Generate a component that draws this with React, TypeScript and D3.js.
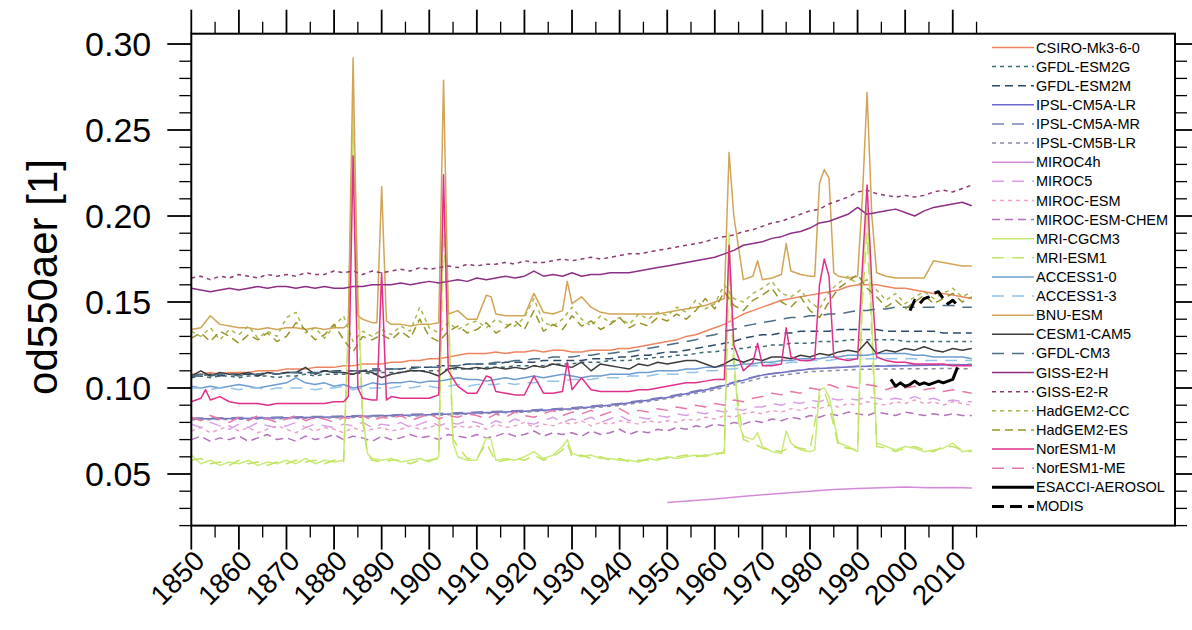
import React from 'react';
import * as d3 from 'd3';

const W = 1192;
const H = 630;
const FONT = 'Liberation Sans, Arial, Helvetica, sans-serif';

// ---- axis ticks / labels ----
const X_MAJOR = [1850, 1860, 1870, 1880, 1890, 1900, 1910, 1920, 1930, 1940, 1950, 1960, 1970, 1980, 1990, 2000, 2010];
const X_LABELS = ['1850', '1860', '1870', '1880', '1890', '1900', '1910', '1920', '1930', '1940', '1950', '1960', '1970', '1980', '1990', '2000', '2010'];
const X_MINOR = [1855, 1865, 1875, 1885, 1895, 1905, 1915, 1925, 1935, 1945, 1955, 1965, 1975, 1985, 1995, 2005, 2015];
const Y_MAJOR = [0.05, 0.1, 0.15, 0.2, 0.25, 0.3];
const Y_LABELS = ['0.05', '0.10', '0.15', '0.20', '0.25', '0.30'];
const Y_MINOR = [0.02, 0.03, 0.04, 0.06, 0.07, 0.08, 0.09, 0.11, 0.12, 0.13, 0.14, 0.16, 0.17, 0.18, 0.19, 0.21, 0.22, 0.23, 0.24, 0.26, 0.27, 0.28, 0.29];
const Y_TITLE = 'od550aer [1]';

// ---- series values: 2-year steps 1850..2014 unless noted ----
const CSIRO = [
  0.108, 0.108, 0.109, 0.108, 0.109, 0.109, 0.109, 0.110, 0.110, 0.110,
  0.111, 0.111, 0.111, 0.112, 0.112, 0.112, 0.113, 0.113, 0.114, 0.114,
  0.114, 0.115, 0.115, 0.116, 0.116, 0.117, 0.117, 0.118, 0.119, 0.120,
  0.120, 0.120, 0.121, 0.120, 0.121, 0.121, 0.122, 0.121, 0.122, 0.122,
  0.121, 0.121, 0.122, 0.122, 0.122, 0.123, 0.123, 0.124, 0.125, 0.126,
  0.127, 0.128, 0.130, 0.131, 0.133, 0.135, 0.137, 0.140, 0.143, 0.145,
  0.147, 0.149, 0.151, 0.152, 0.153, 0.154, 0.155, 0.156, 0.157, 0.159,
  0.160, 0.160, 0.160, 0.159, 0.158, 0.158, 0.157, 0.156, 0.155, 0.155,
  0.154, 0.153, 0.152,
];
const GFDL_ESM2G = [
  0.106, 0.107, 0.106, 0.107, 0.107, 0.106, 0.107, 0.107, 0.107, 0.106,
  0.107, 0.107, 0.108, 0.107, 0.108, 0.108, 0.108, 0.108, 0.109, 0.108,
  0.109, 0.109, 0.109, 0.110, 0.110, 0.110, 0.110, 0.111, 0.111, 0.111,
  0.111, 0.112, 0.112, 0.112, 0.113, 0.113, 0.113, 0.113, 0.114, 0.114,
  0.114, 0.115, 0.115, 0.115, 0.116, 0.116, 0.116, 0.117, 0.117, 0.118,
  0.118, 0.119, 0.119, 0.120, 0.121, 0.121, 0.122, 0.123, 0.123, 0.124,
  0.124, 0.125, 0.125, 0.126, 0.126, 0.126, 0.127, 0.127, 0.127, 0.128,
  0.128, 0.128, 0.128, 0.128, 0.128, 0.127, 0.127, 0.127, 0.127, 0.127,
  0.127, 0.127, 0.127,
];
const GFDL_ESM2M = [
  0.107, 0.107, 0.108, 0.107, 0.108, 0.108, 0.108, 0.108, 0.109, 0.108,
  0.109, 0.109, 0.109, 0.109, 0.110, 0.110, 0.110, 0.110, 0.110, 0.111,
  0.111, 0.111, 0.111, 0.112, 0.112, 0.112, 0.113, 0.113, 0.113, 0.114,
  0.114, 0.114, 0.114, 0.115, 0.115, 0.115, 0.115, 0.116, 0.116, 0.116,
  0.116, 0.116, 0.117, 0.117, 0.117, 0.118, 0.118, 0.119, 0.119, 0.120,
  0.121, 0.121, 0.122, 0.123, 0.124, 0.125, 0.126, 0.127, 0.129, 0.130,
  0.131, 0.131, 0.132, 0.132, 0.133, 0.133, 0.133, 0.133, 0.134, 0.134,
  0.134, 0.134, 0.134, 0.133, 0.133, 0.133, 0.133, 0.133, 0.133, 0.132,
  0.132, 0.132, 0.132,
];
// 10-year steps 1850..2010
const IPSL_CM5A_LR = [0.082, 0.0823, 0.0827, 0.0832, 0.0838, 0.0845, 0.0855, 0.0865, 0.088, 0.0905, 0.0945, 0.1, 0.1075, 0.111, 0.1125, 0.113, 0.1135];
const IPSL_CM5A_MR = [0.0825, 0.0828, 0.0831, 0.0836, 0.0842, 0.085, 0.086, 0.087, 0.0885, 0.091, 0.095, 0.1005, 0.1078, 0.1112, 0.1127, 0.1132, 0.1137];
const IPSL_CM5B_LR = [0.0815, 0.0818, 0.0822, 0.0827, 0.0833, 0.084, 0.085, 0.086, 0.0875, 0.0898, 0.0938, 0.099, 0.106, 0.1095, 0.1108, 0.1112, 0.1113];
// 5-year steps 1950..2010
const MIROC4H = [0.0335, 0.0345, 0.0355, 0.0368, 0.038, 0.039, 0.04, 0.041, 0.0415, 0.042, 0.0425, 0.042, 0.0422];
const MIROC5 = [
  0.079, 0.077, 0.080, 0.078, 0.076, 0.079, 0.077, 0.080, 0.078, 0.077,
  0.078, 0.080, 0.077, 0.079, 0.078, 0.077, 0.079, 0.078, 0.080, 0.077,
  0.079, 0.078, 0.080, 0.077, 0.079, 0.081, 0.078, 0.080, 0.079, 0.081,
  0.080, 0.078, 0.081, 0.079, 0.082, 0.080, 0.079, 0.081, 0.083, 0.080,
  0.082, 0.081, 0.083, 0.080, 0.082, 0.084, 0.081, 0.083, 0.082, 0.084,
  0.083, 0.085, 0.084, 0.086, 0.085, 0.087, 0.086, 0.088, 0.087, 0.089,
  0.089, 0.091, 0.090, 0.092, 0.091, 0.093, 0.092, 0.094, 0.093, 0.094,
  0.093, 0.095, 0.094, 0.093, 0.094, 0.093, 0.095, 0.093, 0.094, 0.092,
  0.093, 0.092, 0.092,
];
const MIROC_ESM = [
  0.075, 0.077, 0.074, 0.076, 0.078, 0.075, 0.077, 0.074, 0.076, 0.078,
  0.076, 0.074, 0.077, 0.075, 0.077, 0.076, 0.074, 0.077, 0.075, 0.076,
  0.077, 0.075, 0.076, 0.078, 0.076, 0.077, 0.079, 0.076, 0.078, 0.077,
  0.078, 0.076, 0.079, 0.077, 0.078, 0.080, 0.077, 0.079, 0.078, 0.080,
  0.079, 0.081, 0.078, 0.080, 0.079, 0.081, 0.080, 0.079, 0.081, 0.080,
  0.081, 0.080, 0.082, 0.081, 0.083, 0.082, 0.084, 0.083, 0.085, 0.086,
  0.085, 0.087, 0.086, 0.088, 0.087, 0.089, 0.088, 0.090, 0.089, 0.091,
  0.090, 0.092, 0.091, 0.090, 0.092, 0.091, 0.093, 0.091, 0.092, 0.090,
  0.092, 0.091, 0.090,
];
const MIROC_ESM_CHEM = [
  0.070, 0.072, 0.069, 0.071, 0.070, 0.072, 0.069, 0.071, 0.073, 0.070,
  0.071, 0.069, 0.072, 0.070, 0.071, 0.073, 0.070, 0.072, 0.071, 0.069,
  0.072, 0.070, 0.071, 0.073, 0.071, 0.072, 0.070, 0.073, 0.072, 0.071,
  0.073, 0.071, 0.072, 0.074, 0.072, 0.073, 0.075, 0.072, 0.074, 0.073,
  0.074, 0.072, 0.075, 0.073, 0.074, 0.076, 0.073, 0.075, 0.074, 0.076,
  0.075, 0.077, 0.076, 0.078, 0.077, 0.079, 0.078, 0.080, 0.079, 0.081,
  0.080, 0.082, 0.081, 0.083, 0.082, 0.084, 0.083, 0.085, 0.084, 0.086,
  0.085, 0.084, 0.086, 0.085, 0.084, 0.086, 0.085, 0.084, 0.085, 0.084,
  0.085, 0.084, 0.084,
];
const MRI_CGCM3 = [
  0.061, 0.056, 0.058, 0.055, 0.057, 0.056, 0.058, 0.055, 0.057, 0.056,
  0.058, 0.056, 0.059, 0.056, 0.058, 0.057, 0.058, 0.264, 0.085, 0.059,
  0.058, 0.059, 0.057, 0.058, 0.059, 0.057, 0.060, 0.150, 0.060, 0.058,
  0.058, 0.071, 0.058, 0.059, 0.058, 0.060, 0.063, 0.059, 0.061, 0.066,
  0.062, 0.060, 0.061, 0.059, 0.059, 0.058, 0.058, 0.057, 0.059, 0.058,
  0.060, 0.059, 0.060, 0.061, 0.060, 0.062, 0.062, 0.120, 0.072, 0.070,
  0.066, 0.063, 0.062, 0.068, 0.064, 0.063, 0.099, 0.095, 0.068, 0.066,
  0.063, 0.205, 0.068, 0.066, 0.064, 0.066, 0.065, 0.063, 0.064, 0.065,
  0.068, 0.063, 0.064,
];
const MRI_CGCM3_EXTRA: [number, number][] = [[1883, 0.14], [1885, 0.16], [1887, 0.062], [1903, 0.21], [1905, 0.068], [1913, 0.07], [1929, 0.07], [1963, 0.19], [1965, 0.08], [1969, 0.074], [1975, 0.075], [1981, 0.064], [1983, 0.1], [1991, 0.16], [1993, 0.14]];
const MRI_ESM1 = [
  0.058, 0.059, 0.056, 0.057, 0.055, 0.058, 0.056, 0.057, 0.055, 0.057,
  0.056, 0.058, 0.057, 0.058, 0.056, 0.058, 0.057, 0.250, 0.080, 0.058,
  0.057, 0.058, 0.058, 0.056, 0.058, 0.058, 0.059, 0.140, 0.066, 0.059,
  0.059, 0.068, 0.057, 0.058, 0.059, 0.058, 0.061, 0.058, 0.060, 0.064,
  0.060, 0.061, 0.059, 0.060, 0.058, 0.059, 0.057, 0.058, 0.058, 0.059,
  0.059, 0.060, 0.061, 0.060, 0.061, 0.061, 0.063, 0.110, 0.070, 0.068,
  0.065, 0.064, 0.063, 0.066, 0.065, 0.064, 0.095, 0.090, 0.066, 0.065,
  0.064, 0.190, 0.066, 0.065, 0.063, 0.065, 0.066, 0.064, 0.063, 0.066,
  0.066, 0.064, 0.063,
];
const MRI_ESM1_EXTRA: [number, number][] = [[1883, 0.13], [1885, 0.15], [1887, 0.062], [1903, 0.19], [1905, 0.07], [1929, 0.068], [1963, 0.17], [1983, 0.098], [1991, 0.15], [1993, 0.13]];
const ACCESS1_0 = [
  0.101, 0.100, 0.101, 0.100, 0.101, 0.102, 0.101, 0.100, 0.101, 0.102,
  0.103, 0.106, 0.103, 0.102, 0.103, 0.101, 0.102, 0.100, 0.101, 0.103,
  0.102, 0.103, 0.103, 0.104, 0.103, 0.104, 0.104, 0.105, 0.106, 0.105,
  0.105, 0.104, 0.105, 0.106, 0.105, 0.106, 0.107, 0.106, 0.107, 0.108,
  0.107, 0.106, 0.107, 0.107, 0.108, 0.108, 0.108, 0.109, 0.109, 0.110,
  0.110, 0.110, 0.111, 0.111, 0.112, 0.112, 0.113, 0.113, 0.114, 0.114,
  0.115, 0.115, 0.116, 0.116, 0.117, 0.117, 0.117, 0.118, 0.118, 0.119,
  0.119, 0.119, 0.120, 0.120, 0.120, 0.120, 0.119, 0.119, 0.118, 0.118,
  0.118, 0.118, 0.117,
];
const ACCESS1_3 = [
  0.100, 0.100, 0.099, 0.100, 0.100, 0.099, 0.100, 0.100, 0.099, 0.100,
  0.100, 0.100, 0.100, 0.099, 0.100, 0.100, 0.101, 0.099, 0.100, 0.100,
  0.100, 0.100, 0.101, 0.100, 0.101, 0.101, 0.100, 0.101, 0.102, 0.101,
  0.102, 0.102, 0.102, 0.103, 0.102, 0.103, 0.103, 0.104, 0.104, 0.104,
  0.105, 0.105, 0.105, 0.106, 0.106, 0.106, 0.107, 0.107, 0.107, 0.108,
  0.108, 0.108, 0.109, 0.109, 0.110, 0.110, 0.111, 0.111, 0.112, 0.113,
  0.113, 0.114, 0.114, 0.115, 0.115, 0.116, 0.116, 0.116, 0.117, 0.117,
  0.117, 0.117, 0.117, 0.117, 0.117, 0.117, 0.117, 0.116, 0.116, 0.116,
  0.116, 0.116, 0.116,
];
const BNU_ESM = [
  0.134, 0.135, 0.142, 0.137, 0.136, 0.135, 0.135, 0.134, 0.135, 0.134,
  0.135, 0.135, 0.134, 0.135, 0.134, 0.135, 0.135, 0.292, 0.140, 0.138,
  0.217, 0.137, 0.137, 0.136, 0.137, 0.137, 0.138, 0.143, 0.145, 0.140,
  0.140, 0.154, 0.143, 0.142, 0.142, 0.142, 0.155, 0.144, 0.143, 0.145,
  0.149, 0.153, 0.147, 0.144, 0.143, 0.143, 0.143, 0.143, 0.143, 0.143,
  0.144, 0.145, 0.146, 0.147, 0.148, 0.150, 0.152, 0.200, 0.163, 0.165,
  0.163, 0.164, 0.166, 0.168, 0.166, 0.165, 0.219, 0.222, 0.165, 0.164,
  0.165, 0.272, 0.167, 0.165, 0.164, 0.164, 0.164, 0.164, 0.174, 0.173,
  0.172, 0.171, 0.171,
];
const BNU_ESM_EXTRA: [number, number][] = [[1883, 0.137], [1885, 0.142], [1889, 0.138], [1891, 0.139], [1903, 0.279], [1913, 0.153], [1929, 0.162], [1963, 0.237], [1969, 0.174], [1975, 0.184], [1981, 0.165], [1983, 0.227], [1985, 0.167], [1991, 0.21], [1993, 0.2]];
const CESM1_CAM5 = [
  0.107, 0.110, 0.107, 0.109, 0.108, 0.108, 0.109, 0.107, 0.109, 0.108,
  0.109, 0.109, 0.112, 0.108, 0.110, 0.109, 0.109, 0.108, 0.110, 0.109,
  0.106, 0.108, 0.109, 0.110, 0.110, 0.109, 0.107, 0.111, 0.112, 0.111,
  0.112, 0.111, 0.112, 0.111, 0.112, 0.111, 0.113, 0.112, 0.114, 0.113,
  0.112, 0.115, 0.110, 0.114, 0.113, 0.112, 0.111, 0.114, 0.113, 0.115,
  0.114, 0.115, 0.116, 0.116, 0.114, 0.112, 0.114, 0.117, 0.115, 0.117,
  0.116, 0.118, 0.118, 0.117, 0.119, 0.118, 0.120, 0.119, 0.121, 0.122,
  0.121, 0.127, 0.120, 0.122, 0.121, 0.123, 0.122, 0.124, 0.122, 0.121,
  0.123, 0.122, 0.123,
];
const GFDL_CM3 = [
  0.107, 0.108, 0.107, 0.108, 0.108, 0.107, 0.108, 0.108, 0.109, 0.108,
  0.109, 0.109, 0.108, 0.109, 0.109, 0.110, 0.109, 0.110, 0.110, 0.110,
  0.110, 0.111, 0.111, 0.111, 0.112, 0.112, 0.112, 0.113, 0.113, 0.114,
  0.114, 0.114, 0.115, 0.115, 0.116, 0.116, 0.117, 0.117, 0.118, 0.118,
  0.118, 0.119, 0.119, 0.120, 0.120, 0.121, 0.121, 0.122, 0.123, 0.124,
  0.125, 0.126, 0.127, 0.128, 0.130, 0.131, 0.133, 0.134, 0.136, 0.137,
  0.138, 0.139, 0.140, 0.141, 0.141, 0.142, 0.142, 0.143, 0.143, 0.144,
  0.145, 0.145, 0.146, 0.146, 0.147, 0.147, 0.147, 0.147, 0.147, 0.148,
  0.148, 0.147, 0.147,
];
const GISS_E2_H = [
  0.158, 0.157, 0.156, 0.157, 0.158, 0.157, 0.158, 0.159, 0.158, 0.159,
  0.159, 0.158, 0.159, 0.158, 0.159, 0.158, 0.158, 0.159, 0.159, 0.160,
  0.160, 0.160, 0.161, 0.160, 0.161, 0.162, 0.161, 0.162, 0.163, 0.162,
  0.164, 0.163, 0.164, 0.165, 0.164, 0.165, 0.168, 0.165, 0.166, 0.165,
  0.167, 0.165, 0.166, 0.166, 0.167, 0.167, 0.167, 0.168, 0.169, 0.170,
  0.171, 0.172, 0.173, 0.174, 0.175, 0.176, 0.178, 0.180, 0.183, 0.184,
  0.185, 0.187, 0.188, 0.190, 0.191, 0.193, 0.196, 0.197, 0.199, 0.201,
  0.205, 0.201, 0.202, 0.203, 0.204, 0.202, 0.200, 0.203, 0.205, 0.206,
  0.207, 0.208, 0.206,
];
const GISS_E2_R = [
  0.164, 0.165, 0.163, 0.165, 0.164, 0.166, 0.165, 0.164, 0.166, 0.165,
  0.166, 0.165, 0.167, 0.166, 0.166, 0.168, 0.167, 0.168, 0.166, 0.168,
  0.167, 0.168, 0.169, 0.168, 0.170, 0.169, 0.170, 0.171, 0.170, 0.172,
  0.171, 0.172, 0.172, 0.173, 0.172, 0.174, 0.173, 0.173, 0.174, 0.175,
  0.174, 0.175, 0.176, 0.175, 0.176, 0.177, 0.178, 0.178, 0.179, 0.180,
  0.181, 0.182, 0.183, 0.184, 0.185, 0.187, 0.188, 0.189, 0.191, 0.192,
  0.194, 0.196, 0.197, 0.199, 0.201, 0.203, 0.204, 0.207, 0.209, 0.211,
  0.214, 0.215, 0.213, 0.212, 0.211, 0.212, 0.211, 0.212, 0.214, 0.215,
  0.214, 0.216, 0.218,
];
const HADGEM2_CC = [
  0.133, 0.130, 0.135, 0.128, 0.134, 0.131, 0.136, 0.129, 0.133, 0.130,
  0.141, 0.144, 0.132, 0.135, 0.129, 0.136, 0.142, 0.127, 0.133, 0.130,
  0.134, 0.131, 0.136, 0.133, 0.147, 0.135, 0.132, 0.138, 0.134, 0.137,
  0.139, 0.135, 0.140, 0.137, 0.136, 0.141, 0.152, 0.138, 0.136, 0.140,
  0.147, 0.140, 0.136, 0.142, 0.138, 0.141, 0.137, 0.143, 0.140, 0.144,
  0.142, 0.147, 0.144, 0.151, 0.146, 0.149, 0.160, 0.152, 0.150, 0.155,
  0.158, 0.162, 0.155, 0.153, 0.157, 0.150, 0.146, 0.156, 0.161, 0.165,
  0.160, 0.163, 0.157, 0.151, 0.155, 0.149, 0.153, 0.156, 0.152, 0.155,
  0.158, 0.153, 0.156,
];
const HADGEM2_ES = [
  0.129, 0.132, 0.127, 0.133, 0.130, 0.126, 0.131, 0.128, 0.132, 0.127,
  0.130, 0.138, 0.134, 0.128, 0.131, 0.137, 0.128, 0.121, 0.130, 0.128,
  0.131, 0.128, 0.133, 0.129, 0.140, 0.130, 0.127, 0.133, 0.136, 0.132,
  0.134, 0.138, 0.132, 0.135, 0.139, 0.134, 0.145, 0.133, 0.137, 0.134,
  0.142, 0.136, 0.139, 0.134, 0.137, 0.141, 0.135, 0.138, 0.136, 0.141,
  0.139, 0.143, 0.140, 0.145, 0.152, 0.146, 0.156, 0.148, 0.145, 0.151,
  0.154, 0.158, 0.150, 0.147, 0.153, 0.145, 0.141, 0.150, 0.158, 0.162,
  0.166, 0.158, 0.153, 0.147, 0.151, 0.146, 0.150, 0.154, 0.149, 0.152,
  0.155, 0.150, 0.153,
];
const NORESM1_M = [
  0.092, 0.094, 0.093, 0.095, 0.092, 0.091, 0.091, 0.091, 0.090, 0.091,
  0.091, 0.091, 0.091, 0.091, 0.091, 0.092, 0.092, 0.235, 0.094, 0.093,
  0.167, 0.095, 0.094, 0.094, 0.094, 0.094, 0.096, 0.110, 0.101, 0.097,
  0.097, 0.107, 0.098, 0.097, 0.096, 0.096, 0.107, 0.097, 0.097, 0.098,
  0.099, 0.106, 0.099, 0.098, 0.098, 0.098, 0.098, 0.099, 0.099, 0.100,
  0.101, 0.102, 0.103, 0.103, 0.104, 0.105, 0.105, 0.125, 0.110, 0.115,
  0.113, 0.113, 0.114, 0.118, 0.116, 0.116, 0.160, 0.165, 0.117, 0.116,
  0.117, 0.218, 0.118, 0.116, 0.115, 0.115, 0.114, 0.114, 0.114, 0.114,
  0.113, 0.113, 0.113,
];
const NORESM1_M_EXTRA: [number, number][] = [[1853, 0.099], [1883, 0.095], [1885, 0.1], [1889, 0.093], [1891, 0.093], [1903, 0.224], [1913, 0.106], [1929, 0.115], [1963, 0.183], [1969, 0.126], [1975, 0.135], [1981, 0.117], [1983, 0.175], [1985, 0.118], [1991, 0.17], [1993, 0.16]];
const NORESM1_ME = [
  0.083, 0.081, 0.084, 0.082, 0.080, 0.083, 0.081, 0.084, 0.082, 0.080,
  0.082, 0.084, 0.081, 0.083, 0.082, 0.080, 0.083, 0.082, 0.084, 0.081,
  0.083, 0.082, 0.084, 0.081, 0.083, 0.085, 0.082, 0.084, 0.083, 0.085,
  0.084, 0.082, 0.085, 0.083, 0.086, 0.084, 0.083, 0.085, 0.087, 0.084,
  0.086, 0.085, 0.087, 0.084, 0.086, 0.088, 0.085, 0.087, 0.086, 0.088,
  0.087, 0.089, 0.088, 0.090, 0.089, 0.091, 0.090, 0.093, 0.092, 0.094,
  0.095, 0.097, 0.096, 0.098, 0.097, 0.100, 0.099, 0.102, 0.100, 0.101,
  0.100, 0.102, 0.101, 0.099, 0.101, 0.100, 0.101, 0.099, 0.100, 0.098,
  0.099, 0.098, 0.097,
];
// observations, annual
const ESACCI = [0.105, 0.101, 0.103, 0.101, 0.102, 0.104, 0.102, 0.103, 0.102, 0.103, 0.104, 0.103, 0.104, 0.105, 0.112];
const MODIS = [0.145, 0.151, 0.149, 0.152, 0.153, 0.155, 0.156, 0.152, 0.149, 0.151, 0.148];

type Series = {
  name: string; color: string; dash: string | null; width: number;
  start: number; step: number; values: number[]; extra: [number, number][];
};

const SHORT = '4,4';
const MED = '8,5';
const LONG = '12,8';

const SERIES: Series[] = [
  { name: 'CSIRO-Mk3-6-0', color: '#ee8560', dash: null, width: 1.5, start: 1850, step: 2, values: CSIRO, extra: [] },
  { name: 'GFDL-ESM2G', color: '#3d6b74', dash: SHORT, width: 1.5, start: 1850, step: 2, values: GFDL_ESM2G, extra: [] },
  { name: 'GFDL-ESM2M', color: '#2b4a6b', dash: MED, width: 1.5, start: 1850, step: 2, values: GFDL_ESM2M, extra: [] },
  { name: 'IPSL-CM5A-LR', color: '#6a6ad0', dash: null, width: 1.5, start: 1850, step: 10, values: IPSL_CM5A_LR, extra: [[2014, 0.1135]] },
  { name: 'IPSL-CM5A-MR', color: '#7d7db8', dash: LONG, width: 1.5, start: 1850, step: 10, values: IPSL_CM5A_MR, extra: [[2014, 0.1138]] },
  { name: 'IPSL-CM5B-LR', color: '#8c8aa8', dash: SHORT, width: 1.5, start: 1850, step: 10, values: IPSL_CM5B_LR, extra: [[2014, 0.1112]] },
  { name: 'MIROC4h', color: '#d48ad8', dash: null, width: 1.5, start: 1950, step: 5, values: MIROC4H, extra: [[2014, 0.0418]] },
  { name: 'MIROC5', color: '#d9a0e6', dash: LONG, width: 1.5, start: 1850, step: 2, values: MIROC5, extra: [] },
  { name: 'MIROC-ESM', color: '#eca2c8', dash: SHORT, width: 1.5, start: 1850, step: 2, values: MIROC_ESM, extra: [] },
  { name: 'MIROC-ESM-CHEM', color: '#b472bc', dash: MED, width: 1.5, start: 1850, step: 2, values: MIROC_ESM_CHEM, extra: [] },
  { name: 'MRI-CGCM3', color: '#c8ec78', dash: null, width: 1.5, start: 1850, step: 2, values: MRI_CGCM3, extra: MRI_CGCM3_EXTRA },
  { name: 'MRI-ESM1', color: '#c2e262', dash: LONG, width: 1.5, start: 1850, step: 2, values: MRI_ESM1, extra: MRI_ESM1_EXTRA },
  { name: 'ACCESS1-0', color: '#6c9cd0', dash: null, width: 1.5, start: 1850, step: 2, values: ACCESS1_0, extra: [] },
  { name: 'ACCESS1-3', color: '#94c4e8', dash: LONG, width: 1.5, start: 1850, step: 2, values: ACCESS1_3, extra: [] },
  { name: 'BNU-ESM', color: '#d2a456', dash: null, width: 1.5, start: 1850, step: 2, values: BNU_ESM, extra: BNU_ESM_EXTRA },
  { name: 'CESM1-CAM5', color: '#3c3c3c', dash: null, width: 1.5, start: 1850, step: 2, values: CESM1_CAM5, extra: [] },
  { name: 'GFDL-CM3', color: '#4a6e86', dash: LONG, width: 1.5, start: 1850, step: 2, values: GFDL_CM3, extra: [] },
  { name: 'GISS-E2-H', color: '#8e2f86', dash: null, width: 1.5, start: 1850, step: 2, values: GISS_E2_H, extra: [] },
  { name: 'GISS-E2-R', color: '#8e3a74', dash: SHORT, width: 1.5, start: 1850, step: 2, values: GISS_E2_R, extra: [] },
  { name: 'HadGEM2-CC', color: '#a8b850', dash: SHORT, width: 1.5, start: 1850, step: 2, values: HADGEM2_CC, extra: [] },
  { name: 'HadGEM2-ES', color: '#9a9428', dash: MED, width: 1.5, start: 1850, step: 2, values: HADGEM2_ES, extra: [] },
  { name: 'NorESM1-M', color: '#e0308c', dash: null, width: 1.5, start: 1850, step: 2, values: NORESM1_M, extra: NORESM1_M_EXTRA },
  { name: 'NorESM1-ME', color: '#e878aa', dash: LONG, width: 1.5, start: 1850, step: 2, values: NORESM1_ME, extra: [] },
  { name: 'ESACCI-AEROSOL', color: '#000000', dash: null, width: 3, start: 1997, step: 1, values: ESACCI, extra: [] },
  { name: 'MODIS', color: '#000000', dash: '12,6', width: 3, start: 2001, step: 1, values: MODIS, extra: [] },
];

const PLOT = { left: 191.3, right: 1175, top: 33.7, bottom: 525.6 };
const xScale = d3.scaleLinear().domain([1850, 2056.7]).range([PLOT.left, PLOT.right]);
const yScale = d3.scaleLinear().domain([0.02, 0.306]).range([PLOT.bottom, PLOT.top]);

function points(s: Series): [number, number][] {
  const p: [number, number][] = s.values.map((v, i) => [s.start + i * s.step, v] as [number, number]);
  return p.concat(s.extra).sort((a, b) => a[0] - b[0]);
}

export default function App() {
  const line = d3.line<[number, number]>().x(d => xScale(d[0])).y(d => yScale(d[1]));
  const MAJ = 24;
  const MIN = 12;
  const legX0 = 992, legX1 = 1034, legY0 = 47.5, legDY = 19.12;
  return (
    <svg width={W} height={H} style={{ position: 'absolute', left: 0, top: 0, background: '#fff' }} fontFamily={FONT}>
      <rect x={0} y={0} width={W} height={H} fill="#fff" />
      <defs>
        <clipPath id="plotclip">
          <rect x={PLOT.left} y={PLOT.top} width={PLOT.right - PLOT.left} height={PLOT.bottom - PLOT.top} />
        </clipPath>
      </defs>
      <g clipPath="url(#plotclip)">
        {SERIES.map(s => (
          <path key={s.name} d={line(points(s)) || ''} fill="none" stroke={s.color}
            strokeWidth={s.width} strokeDasharray={s.dash || undefined} strokeLinejoin="round" />
        ))}
      </g>
      {/* legend */}
      {SERIES.map((s, i) => {
        const y = legY0 + i * legDY;
        return (
          <g key={'leg' + s.name}>
            <line x1={legX0} x2={legX1} y1={y} y2={y} stroke={s.color} strokeWidth={s.width}
              strokeDasharray={s.dash || undefined} />
            <text x={legX1 + 2} y={y} dy="0.35em" fontSize={14.5} fill="#000">{s.name}</text>
          </g>
        );
      })}
      {/* frame */}
      <rect x={PLOT.left} y={PLOT.top} width={PLOT.right - PLOT.left} height={PLOT.bottom - PLOT.top}
        fill="none" stroke="#000" strokeWidth={2} />
      {/* x ticks top & bottom */}
      {X_MAJOR.map(v => (
        <g key={'xm' + v}>
          <line x1={xScale(v)} x2={xScale(v)} y1={PLOT.top} y2={PLOT.top - MAJ} stroke="#000" strokeWidth={1.8} />
          <line x1={xScale(v)} x2={xScale(v)} y1={PLOT.bottom} y2={PLOT.bottom + MAJ} stroke="#000" strokeWidth={1.8} />
        </g>
      ))}
      {X_MINOR.map(v => (
        <g key={'xn' + v}>
          <line x1={xScale(v)} x2={xScale(v)} y1={PLOT.top} y2={PLOT.top - MIN} stroke="#000" strokeWidth={1.3} />
          <line x1={xScale(v)} x2={xScale(v)} y1={PLOT.bottom} y2={PLOT.bottom + MIN} stroke="#000" strokeWidth={1.3} />
        </g>
      ))}
      {X_MAJOR.map((v, i) => (
        <text key={'xl' + v} transform={`translate(${xScale(v) + 15},${PLOT.bottom + 37}) rotate(-45)`}
          textAnchor="end" fontSize={28} fill="#000">{X_LABELS[i]}</text>
      ))}
      {/* y ticks left & right */}
      {Y_MAJOR.map(v => (
        <g key={'ym' + v}>
          <line x1={PLOT.left} x2={PLOT.left - MAJ} y1={yScale(v)} y2={yScale(v)} stroke="#000" strokeWidth={1.8} />
          <line x1={PLOT.right} x2={PLOT.right + MAJ} y1={yScale(v)} y2={yScale(v)} stroke="#000" strokeWidth={1.8} />
        </g>
      ))}
      {Y_MINOR.map(v => (
        <g key={'yn' + v}>
          <line x1={PLOT.left} x2={PLOT.left - MIN} y1={yScale(v)} y2={yScale(v)} stroke="#000" strokeWidth={1.3} />
          <line x1={PLOT.right} x2={PLOT.right + MIN} y1={yScale(v)} y2={yScale(v)} stroke="#000" strokeWidth={1.3} />
        </g>
      ))}
      {Y_MAJOR.map((v, i) => (
        <text key={'yl' + v} x={PLOT.left - MAJ - 16} y={yScale(v)} dy="0.36em" textAnchor="end"
          fontSize={34} fill="#000">{Y_LABELS[i]}</text>
      ))}
      <text transform={`translate(57,277) rotate(-90)`} textAnchor="middle" fontSize={42} fill="#000">{Y_TITLE}</text>
    </svg>
  );
}
